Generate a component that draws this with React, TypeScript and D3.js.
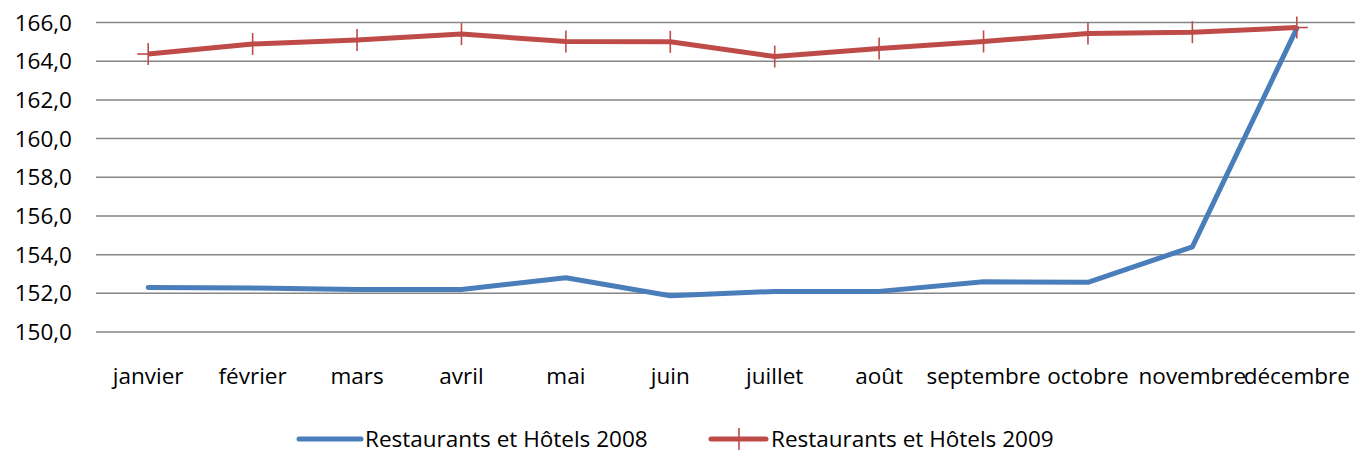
import React, { useEffect, useRef } from 'react';
import * as d3 from 'd3';

const months = ['janvier', 'février', 'mars', 'avril', 'mai', 'juin', 'juillet', 'août', 'septembre', 'octobre', 'novembre', 'décembre'];
const values2008 = [152.3, 152.27, 152.2, 152.2, 152.8, 151.87, 152.1, 152.1, 152.6, 152.57, 154.4, 165.7];
const values2009 = [164.37, 164.89, 165.1, 165.4, 165.02, 165.0, 164.24, 164.66, 165.02, 165.43, 165.5, 165.74];
const yTicks = [150, 152, 154, 156, 158, 160, 162, 164, 166];
const seriesNames = ['Restaurants et Hôtels 2008', 'Restaurants et Hôtels 2009'];

const width = 1355;
const height = 454;
const font = '"Open Sans", "Noto Sans", sans-serif';
const fontSize = '22.5px';

export default function App() {
    const svgRef = useRef<SVGSVGElement>(null);

    useEffect(() => {
        if (!svgRef.current) return;
        const svg = d3.select(svgRef.current);
        svg.selectAll('*').remove();

        const x = d3.scaleBand().domain(months).range([96, 1349]);
        const y = d3.scaleLinear().domain([150, 166]).range([332, 22.5]);
        const cx = (m: string) => (x(m) ?? 0) + x.bandwidth() / 2;

        // gridlines
        svg.append('g')
            .selectAll('line')
            .data(yTicks)
            .join('line')
            .attr('x1', 96)
            .attr('x2', width)
            .attr('y1', d => y(d))
            .attr('y2', d => y(d))
            .attr('stroke', '#868686')
            .attr('stroke-width', 1.5);

        // y labels
        svg.append('g')
            .selectAll('text')
            .data(yTicks)
            .join('text')
            .attr('x', 72)
            .attr('y', d => y(d))
            .attr('dy', '0.36em')
            .attr('text-anchor', 'end')
            .style('font-family', font)
            .style('font-size', fontSize)
            .attr('fill', '#000')
            .text(d => d.toFixed(1).replace('.', ','));

        // x labels
        svg.append('g')
            .selectAll('text')
            .data(months)
            .join('text')
            .attr('x', d => cx(d))
            .attr('y', 384)
            .attr('text-anchor', 'middle')
            .style('font-family', font)
            .style('font-size', fontSize)
            .attr('fill', '#000')
            .text(d => d);

        const line = d3.line<number>()
            .x((_, i) => cx(months[i]))
            .y(d => y(d));

        svg.append('path')
            .datum(values2008)
            .attr('d', line)
            .attr('fill', 'none')
            .attr('stroke', '#4a7ebb')
            .attr('stroke-width', 5)
            .attr('stroke-linejoin', 'round')
            .attr('stroke-linecap', 'round');

        svg.append('path')
            .datum(values2009)
            .attr('d', line)
            .attr('fill', 'none')
            .attr('stroke', '#be4b48')
            .attr('stroke-width', 5)
            .attr('stroke-linejoin', 'round');

        // plus markers
        const markers = svg.append('g').attr('stroke', '#be4b48').attr('stroke-width', 1.6);
        values2009.forEach((v, i) => {
            const px = cx(months[i]);
            const py = y(v);
            markers.append('line').attr('x1', px).attr('x2', px).attr('y1', py - 11).attr('y2', py + 11);
            markers.append('line').attr('x1', px - 11).attr('x2', px + 11).attr('y1', py).attr('y2', py);
        });

        // legend
        const legend = svg.append('g');
        const ly = 439;
        legend.append('line')
            .attr('x1', 299).attr('x2', 361).attr('y1', ly).attr('y2', ly)
            .attr('stroke', '#4a7ebb').attr('stroke-width', 5).attr('stroke-linecap', 'round');
        legend.append('text')
            .attr('x', 365).attr('y', ly).attr('dy', '0.34em')
            .style('font-family', font).style('font-size', fontSize)
            .text(seriesNames[0]);
        legend.append('line')
            .attr('x1', 711).attr('x2', 766).attr('y1', ly).attr('y2', ly)
            .attr('stroke', '#be4b48').attr('stroke-width', 5).attr('stroke-linecap', 'round');
        legend.append('line')
            .attr('x1', 739).attr('x2', 739).attr('y1', ly - 11).attr('y2', ly + 11)
            .attr('stroke', '#be4b48').attr('stroke-width', 1.6);
        legend.append('text')
            .attr('x', 771).attr('y', ly).attr('dy', '0.34em')
            .style('font-family', font).style('font-size', fontSize)
            .text(seriesNames[1]);
    }, []);

    return (
        <svg
            ref={svgRef}
            width={width}
            height={height}
            style={{ position: 'absolute', left: 0, top: 0, background: '#fff' }}
        />
    );
}
